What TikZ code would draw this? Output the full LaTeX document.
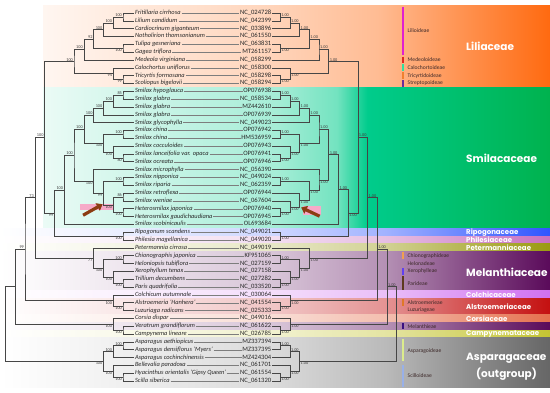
\documentclass[tikz,border=0pt]{standalone}
\usepackage{fontspec}
\setmainfont{Carlito}
\newfontfamily\famfont{Poppins}
\usetikzlibrary{arrows.meta, calc}
\definecolor{brcol}{RGB}{70, 70, 70}
\definecolor{lnkcol}{RGB}{125, 125, 125}
\definecolor{numcol}{RGB}{60, 60, 60}
\definecolor{txtcol}{RGB}{40, 40, 40}
\definecolor{subcol}{RGB}{60, 40, 40}
\definecolor{lilcol}{RGB}{255, 106, 16}
\definecolor{smicol}{RGB}{0, 178, 78}
\definecolor{smimid}{RGB}{0, 204, 140}
\definecolor{ripcol}{RGB}{47, 85, 255}
\definecolor{phicol}{RGB}{200, 112, 192}
\definecolor{petcol}{RGB}{154, 154, 16}
\definecolor{melcol}{RGB}{90, 10, 90}
\definecolor{colcol}{RGB}{208, 112, 240}
\definecolor{alscol}{RGB}{196, 16, 16}
\definecolor{corcol}{RGB}{229, 112, 78}
\definecolor{camcol}{RGB}{196, 196, 50}
\definecolor{aspcol}{RGB}{102, 102, 102}
\definecolor{hlcol}{RGB}{246, 170, 200}
\definecolor{arrcol}{RGB}{140, 60, 18}
% subfamily bars
\definecolor{sbLil}{RGB}{224, 32, 208}
\definecolor{sbMed}{RGB}{224, 40, 32}
\definecolor{sbCal}{RGB}{48, 224, 160}
\definecolor{sbTri}{RGB}{240, 128, 48}
\definecolor{sbStr}{RGB}{110, 44, 154}
\definecolor{sbChi}{RGB}{240, 160, 80}
\definecolor{sbXer}{RGB}{96, 64, 240}
\definecolor{sbPar}{RGB}{92, 58, 30}
\definecolor{sbAls}{RGB}{224, 120, 40}
\definecolor{sbMel}{RGB}{58, 16, 128}
\definecolor{sbAsp}{RGB}{220, 236, 140}
\definecolor{sbSci}{RGB}{152, 176, 232}

\pgfdeclarelayer{bands}
\pgfdeclarelayer{marks}
\pgfsetlayers{bands,marks,main}

% every family band runs from white at the left to its own colour at the
% right-hand edge; only the middle 25bp..75bp of a shading covers the band
\newcommand{\bandshading}[2]{%
  \pgfdeclarehorizontalshading{#1}{100bp}{color(0bp)=(white);
    color(25bp)=(white); color(33bp)=(#2!7); color(50bp)=(#2!24);
    color(60bp)=(#2!45); color(68bp)=(#2!75); color(75bp)=(#2);
    color(100bp)=(#2)}}
\bandshading{ripshade}{ripcol}
\bandshading{phishade}{phicol}
\bandshading{petshade}{petcol}
\bandshading{melshade}{melcol}
\bandshading{colshade}{colcol}
\bandshading{alsshade}{alscol}
\bandshading{corshade}{corcol}
\bandshading{camshade}{camcol}
\bandshading{aspshade}{aspcol}
\pgfdeclarehorizontalshading{lilshade}{100bp}{color(0bp)=(lilcol!6);
  color(25bp)=(lilcol!6); color(47bp)=(lilcol!28); color(58bp)=(lilcol!45);
  color(66bp)=(lilcol!72); color(75bp)=(lilcol); color(100bp)=(lilcol)}
\pgfdeclarehorizontalshading{smishade}{100bp}{color(0bp)=(smimid!8);
  color(25bp)=(smimid!8); color(48bp)=(smimid!35); color(54bp)=(smimid!55);
  color(57bp)=(smimid); color(75bp)=(smicol); color(100bp)=(smicol)}

% a clade: name, height above the tips, two children, support, label side
\newcommand{\cladeL}[6]{%
  \path let \p1=(#3), \p2=(#4) in
    ({(132.8-9.8*#2)*1pt}, {(\y1+\y2)/2}) coordinate (#1);
  \draw[branch] (#3) -| (#1) |- (#4);
  \ifx\relax#5\relax\else\node[bsL#6] (#1-lb) at (#1) {#5};\fi}
\newcommand{\cladeR}[6]{%
  \path let \p1=(#3), \p2=(#4) in
    ({(270.5+9.7*#2)*1pt}, {(\y1+\y2)/2}) coordinate (#1);
  \draw[branch] (#3) -| (#1) |- (#4);
  \ifx\relax#5\relax\else\node[bsR#6] (#1-lb) at (#1) {#5};\fi}

\tikzset{
  branch/.style = {draw=brcol, line width=0.55pt},
  link/.style   = {draw=lnkcol, line width=0.35pt},
  taxon/.style  = {anchor=west, font=\fontsize{6.4}{7}\selectfont\itshape,
                   text=txtcol, inner sep=0.8pt, text height=4.4pt,
                   text depth=1.4pt},
  acc/.style    = {anchor=east, font=\fontsize{6.6}{7}\selectfont,
                   text=txtcol, inner sep=0.6pt, text height=4.4pt,
                   text depth=1.4pt},
  % support values sit above the branch of an upper child, below a lower one
  bs/.style       = {font=\fontsize{4.3}{5}\selectfont, text=numcol,
                     inner sep=0.3pt},
  bsLabove/.style = {bs, anchor=south east, xshift=-0.6pt},
  bsLbelow/.style = {bs, anchor=north east, xshift=-0.6pt},
  bsRabove/.style = {bs, anchor=south west, xshift=0.6pt},
  bsRbelow/.style = {bs, anchor=north west, xshift=0.6pt},
  sbar/.style     = {line width=1.7pt},
  subfam/.style   = {anchor=west, font=\fontsize{5.6}{6}\selectfont,
                     text=subcol, inner sep=0.5pt},
  fambig/.style   = {anchor=west, font=\famfont\bfseries\fontsize{10.5}{12}\selectfont,
                     text=white, inner sep=0pt},
  famsmall/.style = {fambig, font=\famfont\bfseries\fontsize{7}{8}\selectfont},
  hilite/.style   = {fill=hlcol},
  hlarrow/.style  = {draw=arrcol, line width=3.2pt,
                     -{Triangle[length=5.6pt, width=8.4pt]}},
}

\begin{document}
\begin{tikzpicture}[x=1pt, y=-1pt]
  \useasboundingbox (0,0) rectangle (550,393);

  %% ---------------- family bands ----------------
  \begin{pgfonlayer}{bands}
    \shade[shading=lilshade] (43,6) rectangle (550,87.4);
    \shade[shading=smishade] (43,87.4) rectangle (550,228.3);
    \shade[shading=ripshade] (0,228.3) rectangle (550,236.1);
    \shade[shading=phishade] (0,236.1) rectangle (550,243.9);
    \shade[shading=petshade] (0,243.9) rectangle (550,251.8);
    \shade[shading=melshade] (0,251.8) rectangle (550,290.9);
    \shade[shading=colshade] (0,290.9) rectangle (550,298.8);
    \shade[shading=alsshade] (0,298.8) rectangle (550,314.4);
    \shade[shading=corshade] (0,314.4) rectangle (550,322.3);
    \shade[shading=melshade] (0,322.3) rectangle (550,330.1);
    \shade[shading=camshade] (0,330.1) rectangle (550,337.9);
    \shade[shading=aspshade] (0,337.9) rectangle (550,388);
  \end{pgfonlayer}

  %% ---------------- taxa and accessions ----------------
  \foreach \i/\tx/\ac in {
      1/Fritillaria cirrhosa/NC\_024728,
      2/Lilium candidum/NC\_042399,
      3/Cardiocrinum giganteum/NC\_033896,
      4/Notholirion thomsonianum/NC\_061550,
      5/Tulipa gesneriana/NC\_063831,
      6/Gagea triflora/MT261157,
      7/Medeola virginiana/NC\_058299,
      8/Calochortus uniflorus/NC\_058300,
      9/Tricyrtis formosana/NC\_058298,
      10/Scoliopus bigelovii/NC\_058294,
      11/Smilax hypoglauca/OP076938,
      12/Smilax glabra/NC\_058534,
      13/Smilax glabra/MZ442610,
      14/Smilax glabra/OP076939,
      15/Smilax glycophylla/NC\_049023,
      16/Smilax china/OP076942,
      17/Smilax china/HM536959,
      18/Smilax cocculoides/OP076943,
      19/Smilax lanceifolia var. opaca/OP076941,
      20/Smilax ocreata/OP076946,
      21/Smilax microphylla/NC\_056390,
      22/Smilax nipponica/NC\_049024,
      23/Smilax riparia/NC\_062359,
      24/Smilax retroflexa/OP076944,
      25/Smilax weniae/NC\_067604,
      26/Heterosmilax japonica/OP076940,
      27/Heterosmilax gaudichaudiana/OP076945,
      28/Smilax scobinicaulis/OL693684,
      29/Ripogonum scandens/NC\_049021,
      30/Philesia magellanica/NC\_049020,
      31/Petermannia cirrosa/NC\_049019,
      32/Chionographis japonica/KF951065,
      33/Heloniopsis tubiflora/NC\_027159,
      34/Xerophyllum tenax/NC\_027158,
      35/Trillium decumbens/NC\_027282,
      36/Paris quadrifolia/NC\_033520,
      37/Colchicum autumnale/NC\_030064,
      38/Alstroemeria 'Hanhera'/NC\_041554,
      39/Luzuriaga radicans/NC\_025333,
      40/Corsia dispar/NC\_049016,
      41/Veratrum grandiflorum/NC\_061622,
      42/Campynema lineare/NC\_026785,
      43/Asparagus aethiopicus/MZ337394,
      44/Asparagus densiflorus 'Myers'/MZ337395,
      45/Asparagus cochinchinensis/MZ424304,
      46/Bellevalia paradoxa/NC\_061701,
      47/Hyacinthus orientalis 'Gipsy Queen'/NC\_061554,
      48/Scilla siberica/NC\_061320} {
    \coordinate (tL\i) at (134, {13+(\i-1)*7.83});
    \coordinate (tR\i) at (272, {13+(\i-1)*7.83});
    \node[taxon] (nm\i) at (tL\i) {\tx};
    \node[acc]   (ac\i) at (tR\i) {\ac};
    \draw[link] (nm\i) -- (ac\i);
  }

  %% ---------------- left tree (bootstrap) ----------------
  % Liliaceae
  \cladeL{L1}{1}{tL1}{tL2}{100}{above}
  \cladeL{L2}{2}{L1}{tL3}{100}{above}
  \cladeL{L3}{3}{L2}{tL4}{100}{above}
  \cladeL{L4}{1}{tL5}{tL6}{100}{below}
  \cladeL{L5}{4}{L3}{L4}{92}{above}
  \cladeL{L6}{5}{L5}{tL7}{100}{above}
  \cladeL{L7}{1}{tL9}{tL10}{99}{below}
  \cladeL{L8}{2}{tL8}{L7}{94}{below}
  \cladeL{L9}{6}{L6}{L8}{100}{above}
  % Smilacaceae
  \cladeL{L10}{1}{tL11}{tL12}{85}{above}
  \cladeL{L11}{2}{L10}{tL13}{100}{above}
  \cladeL{L12}{3}{L11}{tL14}{100}{above}
  \cladeL{L13}{4}{L12}{tL15}{100}{above}
  \cladeL{L14}{1}{tL16}{tL17}{100}{above}
  \cladeL{L15}{1}{tL19}{tL20}{80}{below}
  \cladeL{L16}{2}{tL18}{L15}{100}{below}
  \cladeL{L17}{3}{L14}{L16}{100}{below}
  \cladeL{L18}{5}{L13}{L17}{100}{above}
  \cladeL{L19}{1}{tL22}{tL23}{100}{above}
  \cladeL{L20}{1}{tL24}{tL25}{86}{above}
  \cladeL{L21}{1}{tL26}{tL27}{100}{below}
  \cladeL{L22}{2}{L20}{L21}{100}{below}
  \cladeL{L23}{3}{L19}{L22}{99}{below}
  \cladeL{L24}{4}{tL21}{L23}{100}{below}
  \cladeL{L25}{6}{L18}{L24}{100}{above}
  \cladeL{L26}{7}{L25}{tL28}{100}{above}
  \cladeL{L27}{1}{tL29}{tL30}{100}{below}
  \cladeL{L28}{8}{L26}{L27}{99}{below}
  \cladeL{L29}{9}{L9}{L28}{100}{above}
  % Petermannia, Melanthiaceae and the rest
  \cladeL{L30}{1}{tL32}{tL33}{100}{above}
  \cladeL{L31}{1}{tL35}{tL36}{100}{below}
  \cladeL{L32}{2}{tL34}{L31}{100}{below}
  \cladeL{L33}{3}{L30}{L32}{100}{below}
  \cladeL{L34}{4}{tL31}{L33}{77}{below}
  \cladeL{L35}{10}{L29}{L34}{73}{above}
  \cladeL{L36}{1}{tL38}{tL39}{100}{below}
  \cladeL{L37}{2}{tL37}{L36}{100}{below}
  \cladeL{L38}{11}{L35}{L37}{99}{above}
  \cladeL{L39}{1}{tL41}{tL42}{100}{below}
  \cladeL{L40}{2}{tL40}{L39}{100}{below}
  \cladeL{L41}{12}{L38}{L40}{}{above}
  % Asparagaceae
  \cladeL{L42}{1}{tL43}{tL44}{100}{above}
  \cladeL{L43}{2}{L42}{tL45}{100}{above}
  \cladeL{L44}{1}{tL47}{tL48}{100}{below}
  \cladeL{L45}{2}{tL46}{L44}{100}{below}
  \cladeL{L46}{3}{L43}{L45}{100}{below}
  \cladeL{L47}{13}{L41}{L46}{}{above}

  %% ---------------- right tree (posterior) ----------------
  \cladeR{R1}{1}{tR1}{tR2}{1.00}{above}
  \cladeR{R2}{2}{R1}{tR3}{1.00}{above}
  \cladeR{R3}{3}{R2}{tR4}{1.00}{above}
  \cladeR{R4}{1}{tR5}{tR6}{1.00}{below}
  \cladeR{R5}{4}{R3}{R4}{1.00}{above}
  \cladeR{R6}{5}{R5}{tR7}{1.00}{above}
  \cladeR{R7}{1}{tR9}{tR10}{1.00}{below}
  \cladeR{R8}{2}{tR8}{R7}{1.00}{below}
  \cladeR{R9}{6}{R6}{R8}{1.00}{above}
  \cladeR{R10}{1}{tR11}{tR12}{1.00}{above}
  \cladeR{R11}{2}{R10}{tR13}{1.00}{above}
  \cladeR{R12}{3}{R11}{tR14}{1.00}{above}
  \cladeR{R13}{4}{R12}{tR15}{1.00}{above}
  \cladeR{R14}{1}{tR16}{tR17}{1.00}{above}
  \cladeR{R15}{1}{tR19}{tR20}{1.00}{below}
  \cladeR{R16}{2}{tR18}{R15}{1.00}{below}
  \cladeR{R17}{3}{R14}{R16}{1.00}{below}
  \cladeR{R18}{5}{R13}{R17}{1.00}{above}
  \cladeR{R19}{1}{tR22}{tR23}{1.00}{above}
  \cladeR{R20}{1}{tR26}{tR27}{1.00}{below}
  \cladeR{R21}{2}{tR25}{R20}{1.00}{below}
  \cladeR{R22}{3}{tR24}{R21}{1.00}{below}
  \cladeR{R23}{4}{R19}{R22}{1.00}{below}
  \cladeR{R24}{5}{tR21}{R23}{1.00}{below}
  \cladeR{R25}{6}{R18}{R24}{1.00}{above}
  \cladeR{R26}{7}{R25}{tR28}{1.00}{above}
  \cladeR{R27}{1}{tR29}{tR30}{1.00}{below}
  \cladeR{R28}{8}{R26}{R27}{1.00}{below}
  \cladeR{R29}{9}{R9}{R28}{1.00}{above}
  \cladeR{R30}{1}{tR32}{tR33}{1.00}{above}
  \cladeR{R31}{1}{tR35}{tR36}{1.00}{below}
  \cladeR{R32}{2}{tR34}{R31}{1.00}{below}
  \cladeR{R33}{3}{R30}{R32}{1.00}{below}
  \cladeR{R34}{4}{tR31}{R33}{1.00}{below}
  \cladeR{R35}{10}{R29}{R34}{1.00}{above}
  \cladeR{R36}{1}{tR38}{tR39}{1.00}{below}
  \cladeR{R37}{2}{tR37}{R36}{1.00}{below}
  \cladeR{R38}{11}{R35}{R37}{1.00}{above}
  \cladeR{R39}{1}{tR41}{tR42}{1.00}{below}
  \cladeR{R40}{2}{tR40}{R39}{1.00}{below}
  \cladeR{R41}{12}{R38}{R40}{1.00}{above}
  \cladeR{R42}{1}{tR43}{tR44}{1.00}{above}
  \cladeR{R43}{2}{R42}{tR45}{1.00}{above}
  \cladeR{R44}{1}{tR47}{tR48}{1.00}{below}
  \cladeR{R45}{2}{tR46}{R44}{1.00}{below}
  \cladeR{R46}{3}{R43}{R45}{1.00}{below}
  \cladeR{R47}{13}{R41}{R46}{}{above}

  %% ---------------- the Heterosmilax node, marked in both trees ----------------
  \begin{pgfonlayer}{marks}
    \fill[hilite] ($(L22-lb.north east)+(0.6,-1)$)
         rectangle ($(L22-lb.south west)+(-25,1.6)$);
    \fill[hilite] ($(R21-lb.north east)+(4,-0.8)$)
         rectangle ($(R21-lb.north east)+(21.5,8.6)$);
  \end{pgfonlayer}
  \coordinate (arL1) at ($(L22-lb.west)+(-22,8.5)$);
  \coordinate (arL2) at ($(L22-lb.west)+(-2.5,-2.5)$);
  \coordinate (arR1) at ($(R21-lb.east)+(20.5,7.5)$);
  \coordinate (arR2) at ($(R21-lb.east)+(2,-1.2)$);
  \draw[hlarrow] (arL1) -- (arL2);
  \draw[hlarrow] (arR1) -- (arR2);

  %% ---------------- subfamilies ----------------
  \draw[sbar, sbLil] (403,7) -- (403,55.5);
  \node[subfam] (sLil) at (407,31) {Lilioideae};
  \draw[sbar, sbMed] (403,56.7) -- (403,63.3);
  \node[subfam] (sMed) at (407,60) {Medeoloideae};
  \draw[sbar, sbCal] (403,64.5) -- (403,71.1);
  \node[subfam] (sCal) at (407,67.8) {Calochortoideae};
  \draw[sbar, sbTri] (403,72.3) -- (403,78.9);
  \node[subfam] (sTri) at (407,75.6) {Tricyrtidoideae};
  \draw[sbar, sbStr] (403,80.2) -- (403,86.8);
  \node[subfam] (sStr) at (407,83.5) {Streptopoideae};
  \draw[sbar, sbChi] (403,252.4) -- (403,259);
  \node[subfam] (sChi) at (407,255.7) {Chionographideae};
  \node[subfam] (sHel) at (407,263.6) {Helonadeae};
  \draw[sbar, sbXer] (403,268.1) -- (403,274.7);
  \node[subfam] (sXer) at (407,271.4) {Xerophylleae};
  \draw[sbar, sbPar] (403,276) -- (403,290.2);
  \node[subfam] (sPar) at (407,283.1) {Parideae};
  \draw[sbar, sbAls] (403,299.4) -- (403,306);
  \node[subfam] (sAls) at (407,302.7) {Alstroemerieae};
  \node[subfam] (sLuz) at (407,310.5) {Luzuriageae};
  \draw[sbar, sbMel] (403,322.9) -- (403,329.5);
  \node[subfam] (sMel) at (407,326.2) {Melanthieae};
  \draw[sbar, sbAsp] (403,339.5) -- (403,361);
  \node[subfam] (sAsp) at (407,351) {Asparagoideae};
  \draw[sbar, sbSci] (403,365) -- (403,387);
  \node[subfam] (sSci) at (407,376) {Scilloideae};

  %% ---------------- families ----------------
  \node[fambig]   (fLil) at (466,46)    {Liliaceae};
  \node[fambig]   (fSmi) at (466,158)   {Smilacaceae};
  \node[famsmall] (fRip) at (466,232.2) {Ripogonaceae};
  \node[famsmall] (fPhi) at (466,240.1) {Philesiaceae};
  \node[famsmall] (fPet) at (466,247.9) {Petermanniaceae};
  \node[fambig]   (fMel) at (466,272)   {Melanthiaceae};
  \node[famsmall] (fCol) at (466,294.9) {Colchicaceae};
  \node[famsmall] (fAls) at (466,306.6) {Alstroemeriaceae};
  \node[famsmall] (fCor) at (466,318.4) {Corsiaceae};
  \node[famsmall] (fCam) at (466,334)   {Campynemataceae};
  \node[fambig]   (fAsp) at (466,358)   {Asparagaceae};
  \node[fambig, anchor=center] (fOut) at (506.5,374) {(outgroup)};

\end{tikzpicture}
\end{document}
